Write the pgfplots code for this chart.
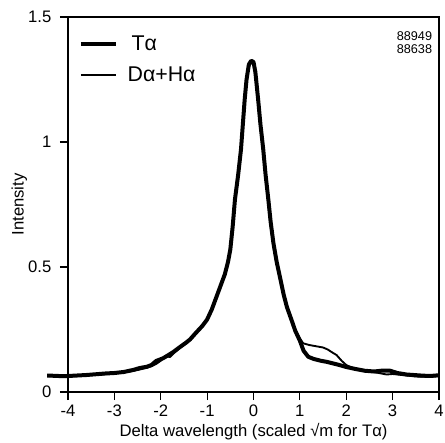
\documentclass[border=0pt]{standalone}
\usepackage{pgfplots}
\pgfplotsset{compat=1.18}
\usepackage{fontspec}
\setmainfont{Liberation Sans}
\begin{document}
\begin{tikzpicture}
\begin{axis}[
  name=ax,
  scale only axis,
  width=278.25pt, height=281.25pt,
  xmin=-4, xmax=4, ymin=0, ymax=1.5,
  xtick={-4,-3,...,4}, ytick={0,0.5,1,1.5},
  yticklabels={0,0.5,1,1.5},
  xticklabels={-4,-3,-2,-1,0,1,2,3,4},
  tick align=outside, major tick length=6pt,
  xtick pos=bottom, ytick pos=left,
  tick style={line width=0.9pt, black},
  axis line style={line width=1pt},
  ticklabel style={font=\fontsize{12.5}{14}\selectfont},
  yticklabel style={xshift=-3pt},
  /pgf/number format/assume math mode=true,
  xlabel={Delta wavelength (scaled √m for Tα)},
  ylabel={Intensity},
  label style={font=\fontsize{12.5}{14}\selectfont},
  xlabel style={at={(axis description cs:0.5,0)}, anchor=base, yshift=-33pt},
  ylabel style={yshift=-6pt},
  clip=false,
  legend cell align=left,
  legend style={at={(axis description cs:0.018,0.965)}, anchor=north west, draw=none, fill=none,
    font=\fontsize{16}{18}\selectfont, row sep=7pt},
  legend image code/.code={\draw[#1] (0pt,0pt) -- (26pt,0pt); \path[draw=none] (0pt,0pt) -- (33pt,0pt);},
]
\addplot[black, line width=3pt, line join=round] coordinates {
(-4.45,0.066) (-4.2,0.064) (-4.0,0.064) (-3.8,0.066) (-3.6,0.068) (-3.4,0.071) (-3.2,0.074)
(-3.0,0.076) (-2.8,0.080) (-2.6,0.088) (-2.45,0.096) (-2.3,0.101) (-2.2,0.108) (-2.1,0.124)
(-1.95,0.135) (-1.85,0.146) (-1.73,0.160) (-1.6,0.178) (-1.45,0.198) (-1.37,0.210) (-1.25,0.235)
(-1.1,0.265) (-1.0,0.290) (-0.9,0.33) (-0.8,0.38) (-0.7,0.43) (-0.62,0.47) (-0.55,0.52)
(-0.5,0.57) (-0.45,0.66) (-0.40,0.77) (-0.33,0.87) (-0.27,0.97) (-0.23,1.07) (-0.19,1.17)
(-0.15,1.25) (-0.1,1.31) (-0.05,1.325) (0.0,1.32) (0.04,1.28) (0.10,1.17) (0.15,1.07)
(0.21,0.97) (0.26,0.87) (0.32,0.77) (0.37,0.68) (0.43,0.595) (0.5,0.52) (0.57,0.46)
(0.65,0.39) (0.72,0.34) (0.82,0.288) (0.9,0.245) (1.0,0.205) (1.08,0.165) (1.18,0.141)
(1.3,0.132) (1.45,0.125) (1.57,0.121) (1.7,0.115) (1.85,0.108) (2.0,0.100) (2.2,0.092)
(2.4,0.085) (2.6,0.082) (2.8,0.086) (2.95,0.085) (3.1,0.076) (3.3,0.070) (3.6,0.066)
(3.8,0.064) (4.0,0.067)
};
\addlegendentry{\hspace*{3pt}Tα}
\addplot[black, line width=1.4pt, line join=round] coordinates {
(-4.45,0.064) (-4.2,0.062) (-4.0,0.063) (-3.8,0.064) (-3.6,0.066) (-3.4,0.069) (-3.2,0.071)
(-3.0,0.074) (-2.8,0.078) (-2.6,0.084) (-2.45,0.090) (-2.3,0.097) (-2.2,0.103) (-2.1,0.112)
(-2.0,0.125) (-1.9,0.143) (-1.8,0.140) (-1.7,0.158) (-1.6,0.174) (-1.45,0.195) (-1.37,0.207)
(-1.25,0.232) (-1.1,0.262) (-1.0,0.288) (-0.9,0.33) (-0.8,0.38) (-0.7,0.43) (-0.62,0.47)
(-0.55,0.52) (-0.5,0.56) (-0.45,0.65) (-0.40,0.76) (-0.34,0.86) (-0.28,0.96) (-0.24,1.06)
(-0.2,1.16) (-0.15,1.25) (-0.1,1.30) (-0.05,1.32) (0.0,1.31) (0.05,1.27) (0.10,1.17) (0.15,1.07)
(0.21,0.97) (0.26,0.87) (0.31,0.77) (0.36,0.68) (0.42,0.595) (0.49,0.52) (0.56,0.46)
(0.64,0.39) (0.72,0.34) (0.82,0.29) (0.9,0.25) (1.0,0.215) (1.07,0.195) (1.2,0.188)
(1.35,0.183) (1.5,0.178) (1.6,0.170) (1.7,0.158) (1.79,0.148) (1.9,0.125) (2.0,0.108)
(2.15,0.095) (2.29,0.088) (2.5,0.082) (2.7,0.076) (2.87,0.070) (3.0,0.072) (3.2,0.068)
(3.5,0.062) (3.8,0.060) (4.0,0.064)
};
\addlegendentry{Dα+Hα}
\node[anchor=north east, align=right, inner sep=0pt, font=\fontsize{9.5}{9.5}\selectfont]
  at (axis description cs:0.982,0.962) {88949\\88638};
\end{axis}
\pgfresetboundingbox
\path (ax.south west) ++(-51pt,-37.5pt) coordinate (bl);
\path (ax.north east) ++(4.5pt,12.75pt) coordinate (tr);
\path[use as bounding box] (bl) rectangle (tr);
\end{tikzpicture}
\end{document}
